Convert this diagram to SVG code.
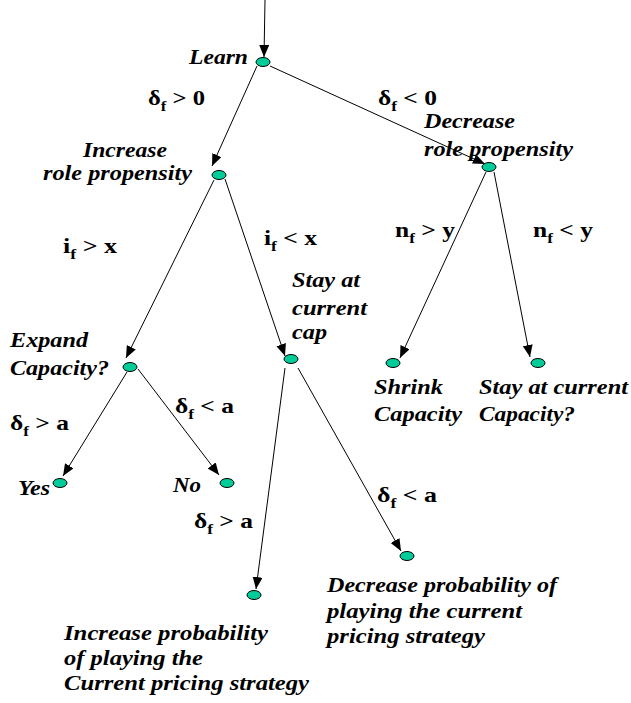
<svg xmlns="http://www.w3.org/2000/svg" width="631" height="703" viewBox="0 0 631 703">
<style>
.n{fill:#00CC99;stroke:#000;stroke-width:1}
.c path{fill:none;stroke:#000;stroke-width:1;marker-end:url(#ah)}
text{font-family:"Liberation Serif","Times New Roman",serif;font-size:22px;font-weight:bold;fill:#000}
.i{font-style:italic}
.s{font-size:15px}
</style>
<defs>
<marker id="ah" markerUnits="userSpaceOnUse" markerWidth="12" markerHeight="10" refX="12" refY="5" orient="auto">
<path d="M0,0 L12,5 L0,10 z" fill="#000"/>
</marker>
</defs>
<rect width="631" height="703" fill="#fff"/>
<g id="connectors" class="c">
<path d="M265,0 L264,57"/>
<path d="M257,66 L212,166"/>
<path d="M270,66 L485,164"/>
<path d="M214,180 L126,358"/>
<path d="M225,179 L285,356"/>
<path d="M486,172 L400,358"/>
<path d="M494,172 L530,357"/>
<path d="M127,372 L63,476"/>
<path d="M138,369 L219,475"/>
<path d="M285,368 L256,589"/>
<path d="M298,368 L401,551"/>
</g>
<g id="edge-labels">
<text x="148" y="105" textLength="57" lengthAdjust="spacingAndGlyphs">δ<tspan class="s" dy="6">f</tspan><tspan dy="-6"> &gt; 0</tspan></text>
<text x="378" y="105" textLength="59" lengthAdjust="spacingAndGlyphs">δ<tspan class="s" dy="6">f</tspan><tspan dy="-6"> &lt; 0</tspan></text>
<text x="63" y="253" textLength="54" lengthAdjust="spacingAndGlyphs">i<tspan class="s" dy="6">f</tspan><tspan dy="-6"> &gt; x</tspan></text>
<text x="264" y="245" textLength="53" lengthAdjust="spacingAndGlyphs">i<tspan class="s" dy="6">f</tspan><tspan dy="-6"> &lt; x</tspan></text>
<text x="395" y="237" textLength="60" lengthAdjust="spacingAndGlyphs">n<tspan class="s" dy="6">f</tspan><tspan dy="-6"> &gt; y</tspan></text>
<text x="533" y="237" textLength="60" lengthAdjust="spacingAndGlyphs">n<tspan class="s" dy="6">f</tspan><tspan dy="-6"> &lt; y</tspan></text>
<text x="10" y="430" textLength="59" lengthAdjust="spacingAndGlyphs">δ<tspan class="s" dy="6">f</tspan><tspan dy="-6"> &gt; a</tspan></text>
<text x="175" y="413" textLength="59" lengthAdjust="spacingAndGlyphs">δ<tspan class="s" dy="6">f</tspan><tspan dy="-6"> &lt; a</tspan></text>
<text x="194" y="528" textLength="59" lengthAdjust="spacingAndGlyphs">δ<tspan class="s" dy="6">f</tspan><tspan dy="-6"> &gt; a</tspan></text>
<text x="377" y="502" textLength="60" lengthAdjust="spacingAndGlyphs">δ<tspan class="s" dy="6">f</tspan><tspan dy="-6"> &lt; a</tspan></text>
</g>
<g id="learn">
<ellipse class="n" cx="263" cy="62" rx="7" ry="4.5"/>
<text class="i" x="189" y="64" textLength="59" lengthAdjust="spacingAndGlyphs">Learn</text>
</g>
<g id="increase-role">
<ellipse class="n" cx="219" cy="175" rx="7" ry="4.5"/>
<text class="i" x="83" y="157" textLength="84" lengthAdjust="spacingAndGlyphs">Increase</text>
<text class="i" x="43" y="180" textLength="149" lengthAdjust="spacingAndGlyphs">role propensity</text>
</g>
<g id="decrease-role">
<ellipse class="n" cx="489" cy="167" rx="7" ry="4.5"/>
<text class="i" x="424" y="128" textLength="91" lengthAdjust="spacingAndGlyphs">Decrease</text>
<text class="i" x="424" y="156" textLength="149" lengthAdjust="spacingAndGlyphs">role propensity</text>
</g>
<g id="expand">
<ellipse class="n" cx="130" cy="367" rx="7" ry="4.5"/>
<text class="i" x="10" y="347" textLength="78" lengthAdjust="spacingAndGlyphs">Expand</text>
<text class="i" x="10" y="375" textLength="99" lengthAdjust="spacingAndGlyphs">Capacity?</text>
</g>
<g id="stay-cap">
<ellipse class="n" cx="291" cy="359" rx="7" ry="4.5"/>
<text class="i" x="292" y="287" textLength="68" lengthAdjust="spacingAndGlyphs">Stay at</text>
<text class="i" x="292" y="315" textLength="75" lengthAdjust="spacingAndGlyphs">current</text>
<text class="i" x="292" y="339" textLength="35" lengthAdjust="spacingAndGlyphs">cap</text>
</g>
<g id="shrink">
<ellipse class="n" cx="393" cy="363" rx="7" ry="4.5"/>
<text class="i" x="374" y="394" textLength="69" lengthAdjust="spacingAndGlyphs">Shrink</text>
<text class="i" x="374" y="421" textLength="88" lengthAdjust="spacingAndGlyphs">Capacity</text>
</g>
<g id="stay-current-capacity">
<ellipse class="n" cx="538" cy="363" rx="7" ry="4.5"/>
<text class="i" x="479" y="394" textLength="149" lengthAdjust="spacingAndGlyphs">Stay at current</text>
<text class="i" x="479" y="421" textLength="96" lengthAdjust="spacingAndGlyphs">Capacity?</text>
</g>
<g id="yes">
<ellipse class="n" cx="60" cy="483" rx="7" ry="4.5"/>
<text class="i" x="18" y="495" textLength="32" lengthAdjust="spacingAndGlyphs">Yes</text>
</g>
<g id="no">
<ellipse class="n" cx="227" cy="483" rx="7" ry="4.5"/>
<text class="i" x="173" y="492" textLength="28" lengthAdjust="spacingAndGlyphs">No</text>
</g>
<g id="increase-prob">
<ellipse class="n" cx="254" cy="595" rx="7" ry="4.5"/>
<text class="i" x="64" y="640" textLength="204" lengthAdjust="spacingAndGlyphs">Increase probability</text>
<text class="i" x="64" y="665" textLength="139" lengthAdjust="spacingAndGlyphs">of playing the</text>
<text class="i" x="64" y="690" textLength="245" lengthAdjust="spacingAndGlyphs">Current pricing strategy</text>
</g>
<g id="decrease-prob">
<ellipse class="n" cx="407" cy="556" rx="7" ry="4.5"/>
<text class="i" x="327" y="592" textLength="230" lengthAdjust="spacingAndGlyphs">Decrease probability of</text>
<text class="i" x="327" y="618" textLength="195" lengthAdjust="spacingAndGlyphs">playing the current</text>
<text class="i" x="327" y="643" textLength="158" lengthAdjust="spacingAndGlyphs">pricing strategy</text>
</g>
</svg>
